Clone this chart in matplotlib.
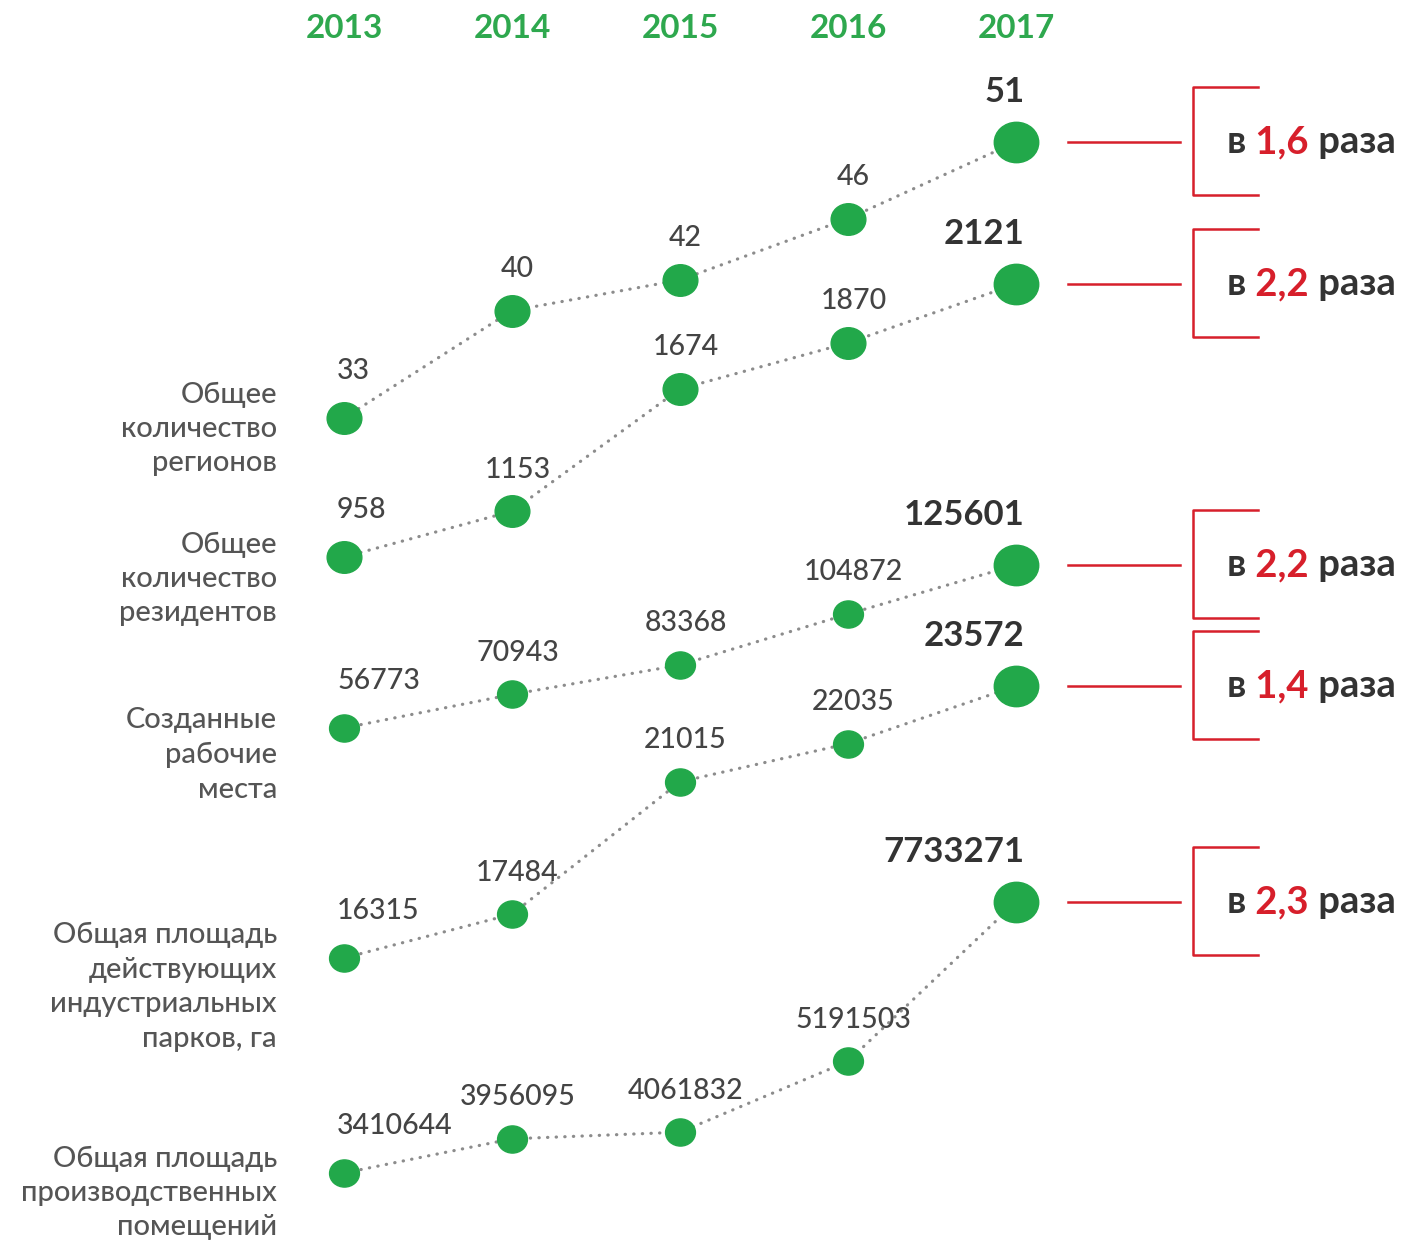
import matplotlib.pyplot as plt
import matplotlib.transforms as mtransforms
from matplotlib.path import Path

plt.rcParams['font.family'] = ['Lato', 'DejaVu Sans']

# years (columns)
years = [2013, 2014, 2015, 2016, 2017]

# indicator values per year
regions = [33, 40, 42, 46, 51]
residents = [958, 1153, 1674, 1870, 2121]
jobs = [56773, 70943, 83368, 104872, 125601]
park_area = [16315, 17484, 21015, 22035, 23572]
premises = [3410644, 3956095, 4061832, 5191503, 7733271]

row_names = [
    "Общее\nколичество\nрегионов",
    "Общее\nколичество\nрезидентов",
    "Созданные\nрабочие\nместа",
    "Общая площадь\nдействующих\nиндустриальных\nпарков, га",
    "Общая площадь\nпроизводственных\nпомещений",
]
growth = ["1,6", "2,2", "2,2", "1,4", "2,3"]

series = [regions, residents, jobs, park_area, premises]

# layout (pixels): band of each row = y of the first and last point
bands = [(418, 142), (557, 284), (728, 565), (958, 686), (1173, 902)]
name_y = [429, 579, 755, 987, 1193]
small_ms = [25, 25, 21.5, 21.5, 21.5]
big_ms = 32

GREEN = '#22a84a'
HEAD_GREEN = '#2ea84e'
GRAY_TXT = '#555555'
NUM_TXT = '#444444'
DARK = '#333333'
RED = '#d71f2b'
DOTS = '#8c8c8c'

W, H = 1407, 1241
x_left, x_right = 344, 1016  # columns of 2013 and 2017

fig = plt.figure(figsize=(W / 100, H / 100), dpi=100)
ax = fig.add_axes([0, 0, 1, 1])
ax.set_xlim(0, W)
ax.set_ylim(H, 0)
ax.axis('off')

# slightly wide round marker
dot = Path.unit_circle().transformed(mtransforms.Affine2D().scale(1.1, 1.0))

row_axes = []
for i, vals in enumerate(series):
    y0, y1 = bands[i]
    rax = fig.add_axes([x_left / W, 1 - y0 / H, (x_right - x_left) / W, (y0 - y1) / H])
    rax.set_xlim(years[0], years[-1])
    rax.set_ylim(vals[0], vals[-1])
    rax.axis('off')
    rax.patch.set_visible(False)
    row_axes.append(rax)

    # dotted connector
    rax.plot(years, vals, color=DOTS, lw=2.3, linestyle=(0, (0.1, 2.6)),
             dash_capstyle='round', clip_on=False, zorder=1)
    # dots
    rax.plot(years[:-1], vals[:-1], linestyle='none', marker=dot, ms=small_ms[i],
             color=GREEN, clip_on=False, zorder=2)
    rax.plot(years[-1:], vals[-1:], linestyle='none', marker=dot, ms=big_ms,
             color=GREEN, clip_on=False, zorder=2)

    # value labels
    last = len(years) - 1
    for j, (yr, v) in enumerate(zip(years, vals)):
        if j == 0:
            rax.annotate(str(v), (yr, v), xytext=(-5, 34), textcoords='offset points',
                         ha='left', va='center', fontsize=20.5, fontweight=500, color=NUM_TXT)
        elif j == last:
            rax.annotate(str(v), (yr, v), xytext=(6, 36), textcoords='offset points',
                         ha='right', va='center', fontsize=25, fontweight='bold', color=DARK)
        else:
            rax.annotate(str(v), (yr, v), xytext=(4, 30), textcoords='offset points',
                         ha='center', va='center', fontsize=20.5, fontweight=500, color=NUM_TXT)

    # row name on the left
    ax.text(277, name_y[i], row_names[i], ha='right', va='center', fontsize=21,
            fontweight=500, color=GRAY_TXT, linespacing=1.4)

    # red pointer, bracket and growth text
    ye = ax.transData.inverted().transform(rax.transData.transform((years[-1], vals[-1])))[1]
    ax.plot([1068, 1180], [ye, ye], color=RED, lw=1.8)
    ax.plot([1258, 1193, 1193, 1258], [ye - 55, ye - 55, ye + 53, ye + 53], color=RED, lw=1.8)
    t = ax.text(1227, ye, 'в', fontsize=27.5, fontweight='bold', color=DARK, va='center')
    t2 = ax.annotate(' ' + growth[i], xy=(1, 0), xycoords=t, va='bottom',
                     fontsize=27.5, fontweight='bold', color=RED)
    ax.annotate(' раза', xy=(1, 0), xycoords=t2, va='bottom',
                fontsize=27.5, fontweight='bold', color=DARK)

# year headers
head_tr = mtransforms.blended_transform_factory(row_axes[0].transData, ax.transData)
for yr in years:
    ax.text(yr, 28, str(yr), transform=head_tr, ha='center', va='center',
            fontsize=24, fontweight='bold', color=HEAD_GREEN)

fig.savefig('out.png', dpi=100)
